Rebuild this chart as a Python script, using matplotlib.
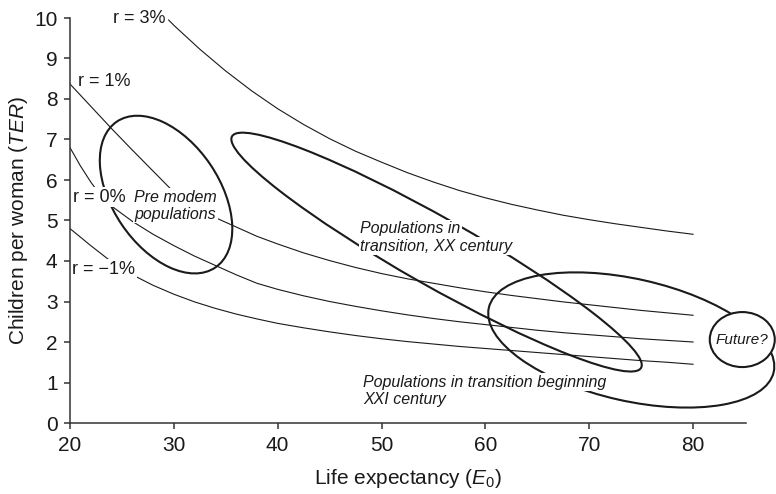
import matplotlib
matplotlib.use('Agg')
import matplotlib.pyplot as plt
import matplotlib.transforms as mtransforms
from matplotlib.patches import Ellipse

plt.rcParams['font.family'] = ['Liberation Sans', 'DejaVu Sans']
plt.rcParams['mathtext.fontset'] = 'custom'
plt.rcParams['mathtext.rm'] = 'Liberation Sans'
plt.rcParams['mathtext.it'] = 'Liberation Sans:italic'

# iso-growth curves: life expectancy (E0) vs children per woman (TER)
e0_r3 = [29.5, 30, 32.5, 35, 37.5, 40, 42.5, 45, 47.5, 50, 52.5, 55, 57.5, 60,
         62.5, 65, 67.5, 70, 72.5, 75, 77.5, 80]
ter_r3 = [9.95, 9.82, 9.23, 8.69, 8.20, 7.76, 7.37, 7.02, 6.71, 6.44, 6.18, 5.95, 5.74, 5.56,
          5.40, 5.26, 5.13, 5.02, 4.92, 4.83, 4.74, 4.66]

e0_r1 = [20, 22, 24, 26, 28, 30, 32, 34, 36, 38, 40, 42.5, 45, 47.5, 50, 52.5, 55,
         57.5, 60, 62.5, 65, 67.5, 70, 72.5, 75, 77.5, 80]
ter_r1 = [8.37, 7.82, 7.27, 6.74, 6.22, 5.70, 5.33, 5.07, 4.84, 4.61, 4.42, 4.20, 4.01, 3.84, 3.69, 3.56, 3.45,
          3.34, 3.24, 3.15, 3.07, 2.99, 2.92, 2.85, 2.78, 2.72, 2.66]

e0_r0 = [20, 21, 22, 23, 24.3, 26, 28, 30, 32, 34, 36, 38, 40, 42.5, 45, 47.5, 50, 52.5, 55,
         57.5, 60, 62.5, 65, 67.5, 70, 72.5, 75, 77.5, 80]
ter_r0 = [6.8, 6.35, 5.95, 5.6, 5.3, 4.98, 4.66, 4.38, 4.12, 3.89, 3.66, 3.45, 3.30, 3.14, 3.0, 2.88, 2.77, 2.67, 2.58,
          2.50, 2.43, 2.36, 2.29, 2.23, 2.18, 2.13, 2.08, 2.04, 2.0]

e0_rm1 = [20, 22, 24, 26, 28, 30, 32, 34, 36, 38, 40, 42.5, 45, 47.5, 50, 52.5, 55,
          57.5, 60, 62.5, 65, 67.5, 70, 72.5, 75, 77.5, 80]
ter_rm1 = [4.8, 4.38, 3.98, 3.66, 3.4, 3.18, 2.99, 2.83, 2.69, 2.57, 2.46, 2.35, 2.25, 2.16, 2.08, 2.01, 1.95,
           1.89, 1.84, 1.79, 1.74, 1.69, 1.64, 1.59, 1.54, 1.50, 1.45]

curve_labels = ['r = 3%', 'r = 1%', 'r = 0%', 'r = \u22121%']

# regions: centre (E0, TER)
region_e0 = [29.25, 55.3, 74.05, 84.74]
region_ter = [5.64, 4.22, 2.05, 2.06]

ink = '#1a1a1a'

fig = plt.figure(figsize=(7.76, 4.94), dpi=100)
ax = fig.add_axes([70 / 776, (494 - 423) / 494, 676 / 776, 405 / 494])

ax.plot(e0_r3, ter_r3, color=ink, lw=0.8, zorder=2)
ax.plot(e0_r1, ter_r1, color=ink, lw=0.8, zorder=2)
ax.plot(e0_r0, ter_r0, color=ink, lw=0.8, zorder=2)
ax.plot(e0_rm1, ter_rm1, color=ink, lw=0.8, zorder=2)


def region(i, w, h, ang, **kw):
    # ellipse sized in inches, centred on a data point
    tr = fig.dpi_scale_trans + mtransforms.ScaledTranslation(region_e0[i], region_ter[i], ax.transData)
    e = Ellipse((0, 0), w, h, angle=ang, transform=tr, fill=False, ec=ink, lw=1.5, clip_on=False, **kw)
    ax.add_patch(e)
    return e


region(0, 1.76, 1.07, 124, zorder=3)
region(1, 4.70, 0.68, -29.5, zorder=3)
region(2, 2.92, 1.22, -12.7, zorder=3)
fut = region(3, 0.65, 0.55, 0, zorder=4)
fut.set_fill(True)
fut.set_facecolor('white')

box = dict(fc='white', ec='none', pad=1.0)

ax.text(29.15, 9.98, curve_labels[0], fontsize=13, ha='right', va='center', color=ink)
ax.text(20.77, 8.42, curve_labels[1], fontsize=13, ha='left', va='center', color=ink)
ax.text(20.3, 5.58, curve_labels[2], fontsize=13, ha='left', va='center', color=ink, bbox=box, zorder=5)
ax.text(20.2, 3.8, curve_labels[3], fontsize=13, ha='left', va='center', color=ink, bbox=box, zorder=5)

note = dict(fontsize=11.5, style='italic', color=ink, bbox=box, zorder=5, va='baseline')
ax.text(30.16, 5.46, 'Pre modem', ha='center', **note)
ax.text(30.16, 5.04, 'populations', ha='center', **note)
ax.text(47.94, 4.68, 'Populations in', ha='left', **note)
ax.text(47.94, 4.25, 'transition, XX century', ha='left', **note)
ax.text(48.23, 0.90, 'Populations in transition beginning', ha='left', **note)
ax.text(48.23, 0.47, 'XXI century', ha='left', **note)
ax.text(84.74, 2.05, 'Future?', fontsize=11, style='italic', ha='center', va='center',
        color=ink, zorder=5, clip_on=False)

ax.set_xlim(20, 85.1)
ax.set_ylim(0, 10)
ax.set_xticks([20, 30, 40, 50, 60, 70, 80])
ax.set_yticks(range(0, 11))
ax.spines['top'].set_visible(False)
ax.spines['right'].set_visible(False)
for s in ['left', 'bottom']:
    ax.spines[s].set_linewidth(1.1)
    ax.spines[s].set_color('#333333')
ax.tick_params(direction='out', length=4, width=1.1, color='#333333', labelsize=15,
               labelcolor=ink, pad=5)

ax.set_xlabel('Life expectancy ($E_0$)', fontsize=15, color=ink, labelpad=9)
ax.set_ylabel('Children per woman ($TER$)', fontsize=15, color=ink, labelpad=3)

fig.savefig('out.png', dpi=100)
